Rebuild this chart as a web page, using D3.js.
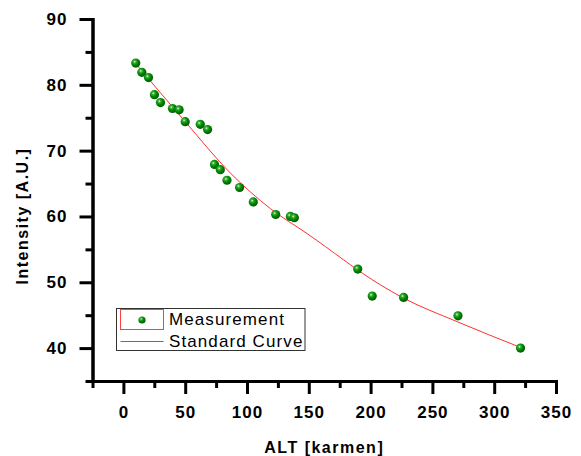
<!DOCTYPE html>
<html>
<meta charset="utf-8">
<title>Intensity vs ALT</title>
<style>
body { margin: 0; background: #fff; }
text { font-family: Arial, "Liberation Sans", sans-serif; }
</style>
<body>
<svg id="chart" width="581" height="456"></svg>
<script src="https://d3js.org/d3.v7.min.js"></script>
<script>
var altValues = [10.0, 14.9, 20.3, 25.1, 30.0, 39.7, 45.1, 50.0, 62.2, 68.1, 73.7, 78.4,
                 83.8, 94.0, 105.1, 123.2, 135.1, 138.3, 189.6, 201.3, 226.7, 270.7, 321.3];
var intensityValues = [83.3, 81.9, 81.1, 78.5, 77.3, 76.4, 76.2, 74.4, 74.0, 73.2, 67.9, 67.1,
                       65.5, 64.4, 62.2, 60.3, 60.0, 59.8, 52.0, 47.9, 47.7, 44.9, 40.0];

// standard curve, points
var curveAlt = [10, 50, 86.5, 118.9, 148.6, 208, 225.6, 270.2, 321.3];
var curveIntensity = [83.2, 74.4, 66.6, 61.2, 57.4, 49.6, 47.7, 44.0, 40.1];

var xMajor = [0, 50, 100, 150, 200, 250, 300, 350];
var xMinor = [-25, 25, 75, 125, 175, 225, 275, 325];
var yMajor = [40, 50, 60, 70, 80, 90];
var yMinor = [35, 45, 55, 65, 75, 85];

var legendLabels = ["Measurement", "Standard Curve"];

var svg = d3.select("#chart");

var x = d3.scaleLinear().domain([-25, 350]).range([92.5, 556]);
var y = d3.scaleLinear().domain([35, 90]).range([381, 19]);

var defs = svg.append("defs");
var grad = defs.append("radialGradient")
  .attr("id", "ball").attr("cx", "38%").attr("cy", "35%").attr("r", "65%");
grad.append("stop").attr("offset", "0%").attr("stop-color", "#e8ffe8");
grad.append("stop").attr("offset", "22%").attr("stop-color", "#3fae3f");
grad.append("stop").attr("offset", "55%").attr("stop-color", "#008a00");
grad.append("stop").attr("offset", "100%").attr("stop-color", "#005a00");

function styleAxis(g) {
  g.select(".domain").attr("stroke", "#000").attr("stroke-width", 3).attr("stroke-linecap", "square");
  g.selectAll(".tick line").attr("stroke", "#000").attr("stroke-width", 3);
  g.selectAll(".tick text")
    .attr("fill", "#000")
    .style("font-size", "17px")
    .style("font-weight", "bold")
    .style("letter-spacing", "1px");
}

// minor ticks first
svg.append("g")
  .attr("transform", "translate(0,381)")
  .call(d3.axisBottom(x).tickValues(xMinor).tickSize(7).tickSizeOuter(0).tickFormat(""))
  .call(styleAxis);
svg.append("g")
  .attr("transform", "translate(92.5,0)")
  .call(d3.axisLeft(y).tickValues(yMinor).tickSize(7).tickSizeOuter(0).tickFormat(""))
  .call(styleAxis);

// major ticks
svg.append("g")
  .attr("transform", "translate(0,381)")
  .call(d3.axisBottom(x).tickValues(xMajor).tickSize(13).tickSizeOuter(0).tickPadding(12))
  .call(styleAxis);
svg.append("g")
  .attr("transform", "translate(92.5,0)")
  .call(d3.axisLeft(y).tickValues(yMajor).tickSize(13).tickSizeOuter(0).tickPadding(12))
  .call(styleAxis);

// axis titles
svg.append("text")
  .attr("x", (x.range()[0] + x.range()[1]) / 2)
  .attr("y", 453)
  .attr("text-anchor", "middle")
  .style("font-size", "16px")
  .style("font-weight", "bold")
  .style("letter-spacing", "1.5px")
  .text("ALT [karmen]");

svg.append("text")
  .attr("transform", "translate(28,216) rotate(-90)")
  .attr("text-anchor", "middle")
  .style("font-size", "16px")
  .style("font-weight", "bold")
  .style("letter-spacing", "1.5px")
  .text("Intensity [A.U.]");

// standard curve
var curveData = curveAlt.map(function(d, i) { return [d, curveIntensity[i]]; });
svg.append("path")
  .datum(curveData)
  .attr("fill", "none")
  .attr("stroke", "#ff3030")
  .attr("stroke-width", 1)
  .attr("d", d3.line()
    .x(function(d) { return x(d[0]); })
    .y(function(d) { return y(d[1]); })
    .curve(d3.curveMonotoneX));

// measurement points
var pts = altValues.map(function(d, i) { return [d, intensityValues[i]]; });
svg.selectAll("circle.pt")
  .data(pts)
  .enter().append("circle")
  .attr("class", "pt")
  .attr("cx", function(d) { return x(d[0]); })
  .attr("cy", function(d) { return y(d[1]); })
  .attr("r", 4.6)
  .attr("fill", "url(#ball)");

// legend
var lg = svg.append("g");
lg.append("rect")
  .attr("x", 116.5).attr("y", 308.5).attr("width", 188.5).attr("height", 42)
  .attr("fill", "#fff").attr("stroke", "#333").attr("stroke-width", 1);
lg.append("rect")
  .attr("x", 120.5).attr("y", 309.5).attr("width", 43).attr("height", 20)
  .attr("fill", "none").attr("stroke", "#ff4040").attr("stroke-width", 1);
lg.append("circle")
  .attr("cx", 142).attr("cy", 320).attr("r", 3.6).attr("fill", "url(#ball)");
lg.append("line")
  .attr("x1", 120.5).attr("x2", 163.5).attr("y1", 341.5).attr("y2", 341.5)
  .attr("stroke", "#ff3030").attr("stroke-width", 1);
lg.selectAll("text.lab")
  .data(legendLabels)
  .enter().append("text")
  .attr("class", "lab")
  .attr("x", 169)
  .attr("y", function(d, i) { return 325 + i * 21.5; })
  .style("font-size", "17px")
  .style("letter-spacing", "1.1px")
  .attr("fill", "#000")
  .text(function(d) { return d; });
</script>
</body>
</html>
